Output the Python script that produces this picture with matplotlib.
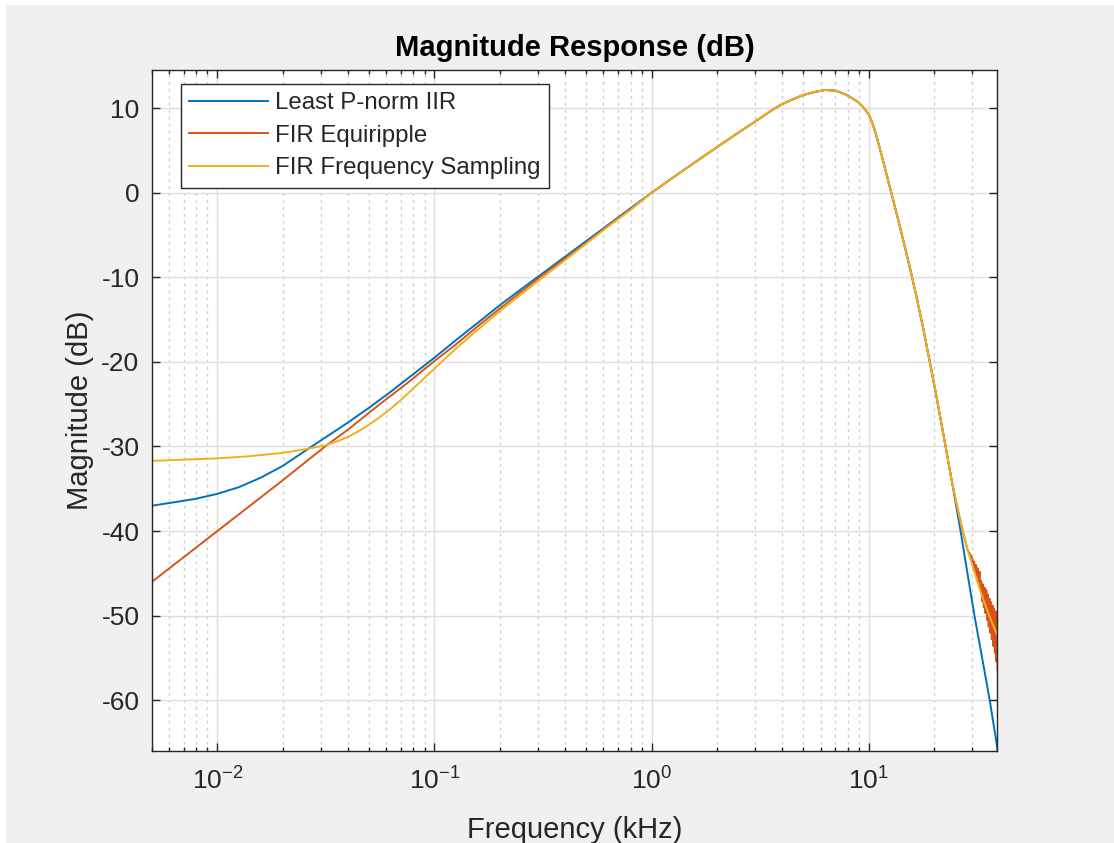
import matplotlib
matplotlib.use('Agg')
import matplotlib.pyplot as plt
from matplotlib.patches import Rectangle
from matplotlib.ticker import LogLocator, NullFormatter

# magnitude responses (frequency in kHz, magnitude in dB)

# part that all three designs share (passband, peak and transition)
f_shared = [1.0, 1.41, 1.98, 2.51, 3.16, 3.55, 3.98, 4.47, 5.01, 5.62, 6.31, 7.08,
            7.94, 8.91, 9.44, 9.72, 10.0, 10.23, 10.47, 10.72, 10.96, 11.48, 12.02,
            12.59, 13.49, 14.45, 15.49, 16.6, 17.78, 19.05, 20.42, 21.88, 22.65]
mag_shared = [0.0, 2.7, 5.3, 7.1, 8.8, 9.7, 10.45, 11.05, 11.55, 11.9, 12.15, 12.05,
              11.55, 10.75, 10.1, 9.7, 9.25, 8.7, 8.0, 7.2, 6.3, 4.4, 2.4,
              0.4, -2.6, -5.7, -8.9, -12.3, -15.9, -19.8, -23.8, -28.0, -30.1]

# Least P-norm IIR
f_iir_low = [0.005, 0.0063, 0.0079, 0.01, 0.0126, 0.0158, 0.02, 0.0251, 0.0316, 0.0398,
             0.0501, 0.0631, 0.0794, 0.1, 0.126, 0.158, 0.2, 0.251, 0.316, 0.398, 0.501,
             0.631, 0.794]
mag_iir_low = [-37.0, -36.6, -36.2, -35.6, -34.8, -33.7, -32.3, -30.6, -28.9, -27.2,
               -25.4, -23.5, -21.5, -19.5, -17.4, -15.4, -13.3, -11.4, -9.5, -7.6, -5.7,
               -3.8, -1.9]
f_iir_high = [24.5, 26.5, 28.5, 30.7, 33.3, 36.1, 38.5, 40.0]
mag_iir_high = [-35.0, -40.0, -45.0, -50.0, -55.0, -60.0, -64.5, -67.5]

# FIR Equiripple (stopband ripple at the top end)
f_equi_low = [0.005, 0.01, 0.02, 0.0317, 0.04, 0.056, 0.075, 0.1, 0.126, 0.158, 0.2,
              0.251, 0.316, 0.398, 0.501, 0.631, 0.794]
mag_equi_low = [-46.0, -40.0, -34.0, -29.9, -28.0, -25.0, -22.5, -19.9, -17.9, -15.8, -13.7,
                -11.7, -9.7, -7.8, -5.9, -3.9, -2.0]
f_equi_high = [24.0, 25.5, 27.0, 28.5, 30.0, 30.3, 30.6, 30.9, 31.2, 31.5, 31.8, 32.1,
               32.4, 32.7, 33.0, 33.3, 33.6, 33.9, 34.2, 34.5, 34.8, 35.1, 35.4, 35.7,
               36.0, 36.3, 36.6, 36.9, 37.2, 37.5, 37.8, 38.1, 38.4, 38.7, 39.0, 39.3, 39.6]
mag_equi_high = [-33.8, -37.0, -39.8, -42.2, -43.2, -44.1, -43.6, -44.8, -44.0, -45.4, -44.4, -46.0,
                 -44.8, -46.7, -45.9, -48.3, -46.3, -49.0, -46.7, -49.7, -47.0, -50.5, -47.5, -51.3,
                 -48.0, -52.0, -48.4, -52.8, -48.8, -53.6, -49.2, -54.4, -49.5, -55.4, -49.8, -56.5, -50.2]

# FIR Frequency Sampling
f_fs_low = [0.005, 0.0071, 0.01, 0.0141, 0.02, 0.0251, 0.0316, 0.0355, 0.0398, 0.0447,
            0.0501, 0.0562, 0.0631, 0.0708, 0.0794, 0.0891, 0.1, 0.112, 0.126, 0.141,
            0.158, 0.178, 0.2, 0.251, 0.316, 0.398, 0.501, 0.631, 0.794]
mag_fs_low = [-31.7, -31.55, -31.4, -31.15, -30.75, -30.35, -29.85, -29.4, -28.9, -28.2,
              -27.4, -26.5, -25.5, -24.4, -23.2, -22.0, -20.8, -19.6, -18.4, -17.3,
              -16.2, -15.1, -14.0, -12.0, -10.0, -8.0, -6.0, -4.0, -2.1]
f_fs_high = [24.0, 25.5, 27.0, 28.5, 30.0, 31.5, 33.0, 34.5, 36.0, 37.5, 39.0, 40.0]
mag_fs_high = [-33.8, -37.0, -39.8, -42.2, -44.0, -45.8, -47.4, -48.8, -50.1, -51.2, -52.2, -52.8]

series_names = ['Least P-norm IIR', 'FIR Equiripple', 'FIR Frequency Sampling']
xtick_vals = [0.01, 0.1, 1, 10]
xtick_labels = [r'$\mathregular{10^{-2}}$', r'$\mathregular{10^{-1}}$',
                r'$\mathregular{10^{0}}$', r'$\mathregular{10^{1}}$']

plt.rcParams['font.family'] = ['Liberation Sans', 'DejaVu Sans']
plt.rcParams['mathtext.fontset'] = 'custom'
plt.rcParams['mathtext.rm'] = 'Liberation Sans'
plt.rcParams['mathtext.it'] = 'Liberation Sans:italic'
plt.rcParams['mathtext.bf'] = 'Liberation Sans:bold'
plt.rcParams['axes.unicode_minus'] = False

axcol = '#262626'
fig = plt.figure(figsize=(11.14, 8.43), dpi=100, facecolor='#f0f0f0')
# thin white strips at the top and left edge of the screenshot
fig.add_artist(Rectangle((0, 1 - 5 / 843), 1, 5 / 843, transform=fig.transFigure,
                         facecolor='white', lw=0))
fig.add_artist(Rectangle((0, 0), 6 / 1114, 1, transform=fig.transFigure,
                         facecolor='white', lw=0))

ax = fig.add_axes([0.1364, 0.1091, 0.7586, 0.8078])
ax.set_xscale('log')

lw = 1.4
ax.plot(f_iir_low + f_shared + f_iir_high, mag_iir_low + mag_shared + mag_iir_high,
        color='#0072bd', lw=lw, label=series_names[0])
ax.plot(f_equi_low + f_shared + f_equi_high, mag_equi_low + mag_shared + mag_equi_high,
        color='#d95319', lw=lw, label=series_names[1])
ax.plot(f_fs_low + f_shared + f_fs_high, mag_fs_low + mag_shared + mag_fs_high,
        color='#edb120', lw=lw, label=series_names[2])

ax.set_xlim(0.005, 39)
ax.set_ylim(-66, 14.5)
ax.set_yticks(range(-60, 11, 10))
ax.set_xticks(xtick_vals, labels=xtick_labels)
ax.xaxis.set_minor_locator(LogLocator(base=10, subs=range(2, 10), numticks=20))
ax.xaxis.set_minor_formatter(NullFormatter())

# matlab style grid: solid major, dotted minor (x only)
ax.set_axisbelow(True)
ax.grid(which='major', color='#dedede', lw=1.0, ls='-')
ax.grid(which='minor', axis='x', color='#cccccc', lw=1.0, ls=(0, (2, 3)))

ax.tick_params(which='both', direction='in', top=True, right=True,
               colors=axcol, width=1.0, labelsize=19)
ax.tick_params(which='major', length=6)
ax.tick_params(which='minor', length=3)
ax.tick_params(axis='y', pad=9)
ax.tick_params(axis='x', pad=12)
for s in ax.spines.values():
    s.set_color(axcol)
    s.set_linewidth(1.0)

ax.set_xlabel('Frequency (kHz)', fontsize=21, color=axcol, labelpad=15)
ax.set_ylabel('Magnitude (dB)', fontsize=21, color=axcol, labelpad=5)
ax.set_title('Magnitude Response (dB)', fontsize=21, fontweight='bold', color='black', pad=10)

leg = ax.legend(loc='upper left', bbox_to_anchor=(0.0343, 0.9794), borderaxespad=0,
                fontsize=17.3, frameon=True, fancybox=False, framealpha=1,
                edgecolor=axcol, handlelength=3.3, handletextpad=0.28,
                labelspacing=0.44, borderpad=0.34)
leg.get_frame().set_linewidth(1.0)
for t in leg.get_texts():
    t.set_color(axcol)

fig.savefig('out.png', dpi=100, facecolor=fig.get_facecolor())
